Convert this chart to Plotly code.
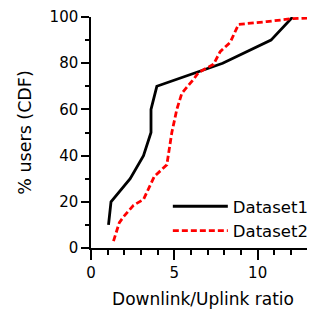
import plotly.graph_objects as go

d1_x = [1.05, 1.2, 2.35, 3.15, 3.6, 3.6, 3.95, 7.9, 10.8, 12.1]
d1_y = [10, 20, 30, 40, 50, 60, 70, 80, 90, 100]

d2_x = [1.35, 1.7, 1.95, 2.55, 3.15, 3.8, 4.55, 4.85, 5.15, 5.45, 6.15, 6.45, 7.35, 7.75, 8.35, 8.85, 10.55, 12.1, 13.45]
d2_y = [3, 11, 13.5, 18.5, 21, 31, 36, 50, 60, 67, 73, 76, 79.5, 85, 89, 96.8, 98, 99.3, 99.7]

FONT = "DejaVu Sans"

fig = go.Figure()
fig.add_trace(go.Scatter(x=d1_x, y=d1_y, mode="lines", name="Dataset1",
                         line=dict(color="black", width=2.8)))
fig.add_trace(go.Scatter(x=d2_x, y=d2_y, mode="lines", name="Dataset2",
                         line=dict(color="red", width=2.8, dash="6px,3px")))

fig.update_layout(
    width=307, height=304,
    margin=dict(l=83, r=0, t=9, b=64),
    paper_bgcolor="white", plot_bgcolor="white",
    font=dict(family=FONT, size=15, color="black"),
    showlegend=True,
    legend=dict(x=0.343, y=0.0, xanchor="left", yanchor="bottom",
                bgcolor="rgba(0,0,0,0)", font=dict(size=16.5),
                itemwidth=55, tracegroupgap=0),
    xaxis=dict(range=[0, 13.44], showgrid=False, zeroline=False,
               showline=True, linecolor="black", linewidth=1.5,
               ticks="outside", ticklen=10, tickwidth=1.5, tickcolor="black",
               tickmode="array", tickvals=[0, 5, 10],
               minor=dict(ticks="outside", ticklen=5, tickwidth=1.5, dtick=1, tick0=0, tickcolor="black"),
               title=dict(text="Downlink/Uplink ratio", font=dict(size=17), standoff=12)),
    yaxis=dict(range=[0, 100], showgrid=False, zeroline=False,
               showline=True, linecolor="black", linewidth=1.5,
               ticks="outside", ticklen=8, tickwidth=1.5, tickcolor="black",
               tickmode="array", tickvals=[0, 20, 40, 60, 80, 100],
               minor=dict(ticks="outside", ticklen=4, tickwidth=1.5, dtick=10, tick0=0, tickcolor="black"),
               title=dict(text="% users (CDF)", font=dict(size=17.5), standoff=13)),
)

fig.write_html("out.html")
